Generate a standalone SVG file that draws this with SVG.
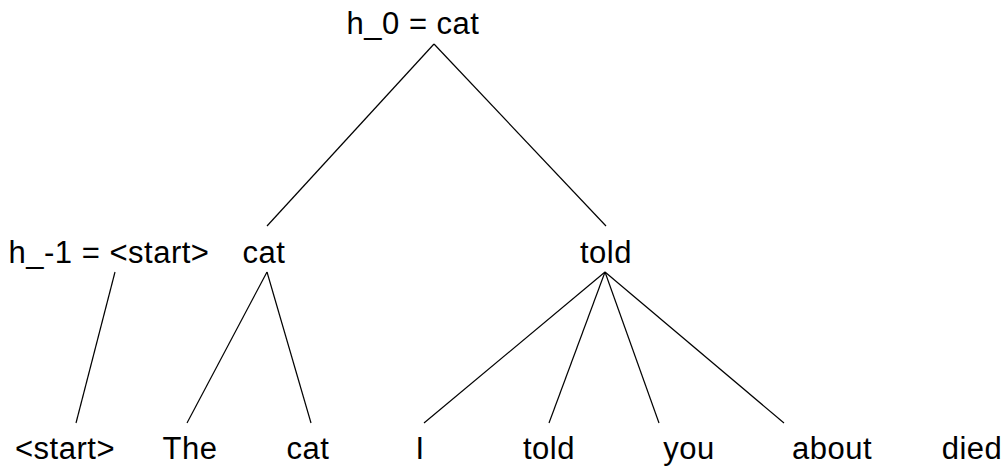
<svg xmlns="http://www.w3.org/2000/svg" width="1007" height="467" viewBox="0 0 1007 467">
<style>
text{font-family:"Liberation Sans",Arial,sans-serif;font-size:31px;letter-spacing:0.5px;fill:#000;text-anchor:middle}
line{stroke:#000;stroke-width:1.2}
</style>
<rect width="1007" height="467" fill="#fff"/>
<g id="connectors">
<line x1="434" y1="44" x2="267" y2="226"/>
<line x1="434" y1="44" x2="606" y2="226"/>
<line x1="115" y1="272" x2="76" y2="423"/>
<line x1="267" y1="272" x2="187" y2="423"/>
<line x1="267" y1="272" x2="311" y2="423"/>
<line x1="605" y1="272" x2="424" y2="423"/>
<line x1="605" y1="272" x2="549" y2="423"/>
<line x1="605" y1="272" x2="659" y2="423"/>
<line x1="605" y1="272" x2="784" y2="423"/>
</g>
<g id="root"><text x="413" y="34">h_0 = cat</text></g>
<g id="hm1"><text x="109" y="263">h_-1 = &lt;start&gt;</text></g>
<g id="cat_mid"><text x="264" y="263">cat</text></g>
<g id="told_mid"><text x="606" y="263">told</text></g>
<g id="w_start"><text x="65" y="459">&lt;start&gt;</text></g>
<g id="w_the"><text x="190" y="459">The</text></g>
<g id="w_cat"><text x="308" y="459">cat</text></g>
<g id="w_i"><text x="420" y="459">I</text></g>
<g id="w_told"><text x="549" y="459">told</text></g>
<g id="w_you"><text x="689" y="459">you</text></g>
<g id="w_about"><text x="832" y="459">about</text></g>
<g id="w_died"><text x="972" y="459">died</text></g>
</svg>
